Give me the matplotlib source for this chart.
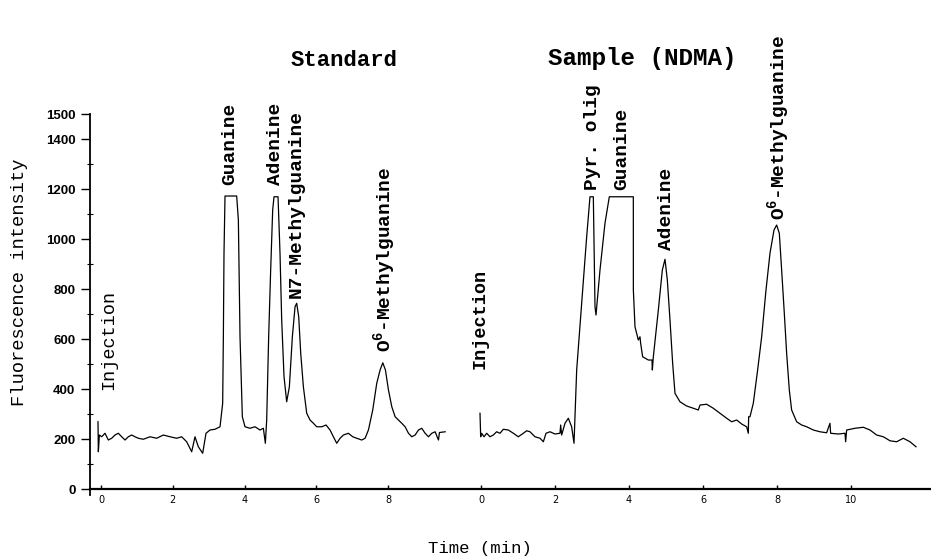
# HPLC fluorescence chromatograms: standard mix vs NDMA-treated sample
import matplotlib.pyplot as plt
import numpy as np

# ---- data ----
# standard run: time (min) and fluorescence intensity
std_time = [-0.084, -0.074, -0.046, 0.019, 0.111, 0.204, 0.297, 0.390, 0.483, 0.576,
            0.669, 0.761, 0.854, 0.947, 1.04, 1.179, 1.365, 1.551, 1.736, 1.922,
            2.108, 2.247, 2.386, 2.526, 2.618, 2.711, 2.832, 2.925, 3.036, 3.175,
            3.315, 3.389, 3.408, 3.426, 3.454, 3.779, 3.826, 3.872, 3.937, 4.011,
            4.150, 4.29, 4.429, 4.522, 4.578, 4.615, 4.670, 4.726, 4.782, 4.819,
            4.931, 4.986, 5.033, 5.098, 5.172, 5.247, 5.330, 5.405, 5.451, 5.507,
            5.563, 5.637, 5.730, 5.823, 5.916, 6.009, 6.148, 6.269, 6.380, 6.473,
            6.566, 6.659, 6.752, 6.891, 7.012, 7.123, 7.263, 7.356, 7.449, 7.569,
            7.681, 7.774, 7.849, 7.923, 8.007, 8.100, 8.193, 8.285, 8.378, 8.471,
            8.564, 8.657, 8.750, 8.843, 8.935, 9.028, 9.121, 9.214, 9.307, 9.400,
            9.428, 9.586]
std_signal = [269, 149, 216, 209, 223, 196, 203, 216, 223, 209,
              196, 209, 216, 209, 203, 199, 209, 203, 216, 209,
              203, 209, 189, 149, 209, 169, 143, 223, 236, 239,
              249, 343, 609, 943, 1172, 1172, 1076, 609, 289, 249,
              243, 249, 236, 243, 183, 276, 609, 876, 1116, 1169,
              1169, 943, 676, 449, 349, 409, 609, 729, 743, 689,
              543, 409, 303, 276, 263, 249, 249, 256, 236, 209,
              183, 203, 216, 223, 209, 203, 196, 203, 236, 316,
              423, 476, 505, 476, 396, 329, 289, 276, 263, 249,
              223, 209, 216, 236, 243, 223, 209, 223, 229, 196,
              226, 229]

# sample (NDMA) run
smp_time = [-0.027, -0.009, 0.018, 0.081, 0.153, 0.243, 0.333, 0.423, 0.514, 0.604,
            0.739, 0.874, 1.009, 1.144, 1.234, 1.324, 1.459, 1.595, 1.685, 1.757,
            1.865, 2.0, 2.135, 2.153, 2.18, 2.27, 2.36, 2.45, 2.514, 2.586,
            2.721, 2.856, 2.946, 3.036, 3.081, 3.108, 3.216, 3.351, 3.468, 4.117,
            4.118, 4.162, 4.252, 4.297, 4.315, 4.369, 4.523, 4.622, 4.631, 4.658,
            4.793, 4.901, 4.973, 5.036, 5.108, 5.180, 5.243, 5.378, 5.559, 5.739,
            5.874, 5.919, 6.099, 6.279, 6.459, 6.64, 6.775, 6.91, 7.045, 7.18,
            7.225, 7.234, 7.27, 7.36, 7.477, 7.586, 7.703, 7.811, 7.919, 7.991,
            8.063, 8.126, 8.198, 8.261, 8.333, 8.396, 8.532, 8.667, 8.802, 8.982,
            9.162, 9.342, 9.432, 9.45, 9.658, 9.838, 9.856, 9.883, 10.108, 10.333,
            10.514, 10.694, 10.874, 11.054, 11.234, 11.414, 11.595, 11.757]
smp_signal = [303, 209, 223, 209, 223, 209, 216, 229, 223, 239,
              236, 223, 209, 223, 233, 229, 209, 203, 189, 223,
              229, 220, 223, 256, 216, 263, 283, 249, 183, 476,
              743, 1009, 1169, 1169, 729, 696, 876, 1063, 1169, 1169,
              796, 649, 596, 609, 583, 529, 516, 516, 476, 529,
              716, 876, 919, 836, 676, 503, 383, 349, 332, 323,
              316, 336, 339, 323, 303, 283, 269, 276, 260, 249,
              223, 289, 289, 343, 476, 609, 796, 943, 1036, 1056,
              1023, 876, 703, 543, 396, 316, 269, 256, 249, 236,
              229, 225, 263, 223, 220, 223, 189, 236, 243, 247,
              236, 216, 209, 193, 189, 203, 189, 169]

std_ticks = [0, 2, 4, 6, 8]
smp_ticks = [0, 2, 4, 6, 8, 10]
y_ticks = [0, 200, 400, 600, 800, 1000, 1200, 1400, 1500]

# the sample trace sits to the right of the standard on one shared axis
smp_offset = 10.585
smp_scale = 1.0306

mono = ['Liberation Mono', 'DejaVu Sans Mono']
plt.rcParams['mathtext.fontset'] = 'custom'
plt.rcParams['mathtext.rm'] = 'Liberation Mono:bold'
plt.rcParams['mathtext.default'] = 'rm'

fig = plt.figure(figsize=(9.31, 5.6), dpi=100)
ax = fig.add_axes([0.0967, 0.1156, 0.9033, 0.6808])

smp_x = smp_offset + np.array(smp_time) * smp_scale
ax.plot(std_time, std_signal, color='black', lw=0.9)
ax.plot(smp_x, smp_signal, color='black', lw=0.9)

ax.set_xlim(-0.306, 23.12)
ax.set_ylim(-25, 1500)

# axes styling
for side in ['top', 'right']:
    ax.spines[side].set_visible(False)
ax.spines['bottom'].set_position(('data', 0))
ax.spines['bottom'].set_linewidth(1.6)
ax.spines['left'].set_linewidth(1.3)

xt = list(std_ticks) + list(smp_offset + np.array(smp_ticks) * smp_scale)
xl = [str(v) for v in std_ticks] + [str(v) for v in smp_ticks]
ax.set_xticks(xt)
ax.set_xticklabels(xl, fontsize=7, family='DejaVu Sans')
ax.tick_params(axis='x', direction='in', length=3, width=1, pad=4)

ax.set_yticks(y_ticks)
ax.set_yticklabels([str(v) for v in y_ticks], fontsize=9.5,
                   family='Liberation Sans', fontweight='bold')
ax.set_yticks(np.arange(100, 1400, 200), minor=True)
ax.tick_params(axis='y', which='major', direction='out', length=6.5, width=1, pad=4)
ax.tick_params(axis='y', which='minor', direction='inout', length=4, width=0.8)

# axis titles
fig.text(20 / 931, 1 - 282 / 560, 'Fluorescence intensity', rotation=90,
         ha='center', va='center', family=mono, fontsize=13.5)
fig.text(480 / 931, 1 - 549 / 560, 'Time (min)', ha='center', va='center',
         family=mono, fontsize=12.5)

# panel titles
ax.text(6.77, 1716, 'Standard', ha='center', va='center', family=mono,
        fontsize=16, fontweight='bold', clip_on=False)
ax.text(15.07, 1724, 'Sample (NDMA)', ha='center', va='center', family=mono,
        fontsize=17.5, fontweight='bold', clip_on=False)

# injection markers
ax.text(0.2, 596, 'Injection', rotation=90, ha='center', va='center',
        family=mono, fontsize=13.3)
ax.text(10.56, 680, 'Injection', rotation=90, ha='center', va='center',
        family=mono, fontsize=13.3, fontweight='bold')

# peak labels: (x on shared axis, bottom of text, label)
peak_labels = [
    (3.59, 1216, 'Guanine'),
    (4.87, 1216, 'Adenine'),
    (5.43, 764, 'N7-Methylguanine'),
    (7.91, 548, 'O$^{6}$-Methylguanine'),
    (13.68, 1196, 'Pyr. olig'),
    (14.51, 1196, 'Guanine'),
    (15.74, 956, 'Adenine'),
    (18.89, 1076, 'O$^{6}$-Methylguanine'),
]
for px, py, name in peak_labels:
    ax.text(px, py, name, rotation=90, ha='center', va='bottom',
            family=mono, fontsize=14, fontweight='bold', clip_on=False)

fig.savefig('out.png', dpi=100)
